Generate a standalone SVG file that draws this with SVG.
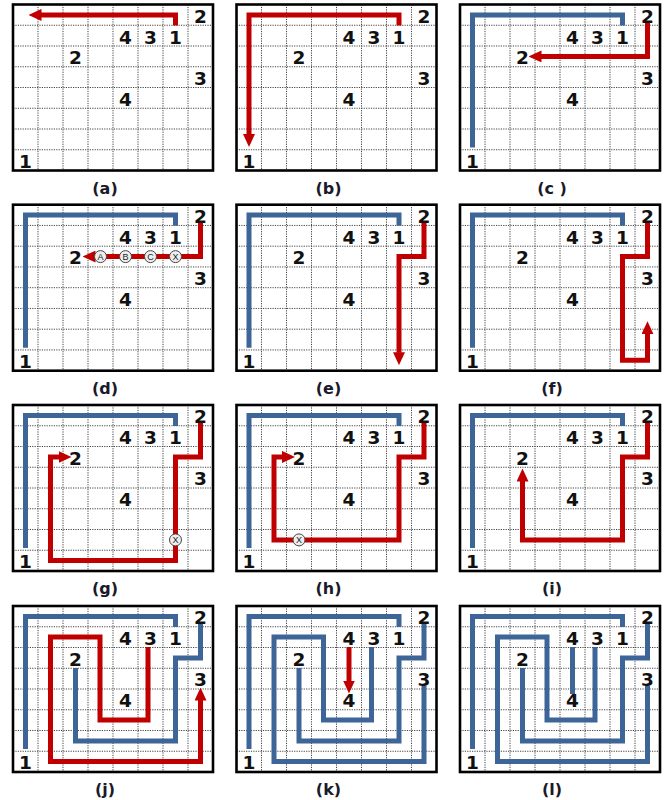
<svg xmlns="http://www.w3.org/2000/svg" xmlns:xlink="http://www.w3.org/1999/xlink" width="669" height="800" viewBox="0 0 669 800">
<style>
.bg{fill:#ffffff}
.gr{fill:none;stroke:#444;stroke-width:1;stroke-dasharray:1.2 1.2}
.bd{fill:none;stroke:#000;stroke-width:2.6}
.num{font-family:"DejaVu Sans",Verdana,sans-serif;font-weight:bold;font-size:18.5px;fill:#111;text-anchor:middle}
.lab{font-family:"DejaVu Sans",Verdana,sans-serif;font-weight:bold;font-size:16px;fill:#1a1a2a;text-anchor:middle}
.r{fill:none;stroke:#C00000;stroke-width:5;stroke-linejoin:miter;stroke-linecap:butt}
.b{fill:none;stroke:#3D6597;stroke-width:5;stroke-linejoin:miter;stroke-linecap:butt}
.ci{fill:#eeeeee;stroke:#444;stroke-width:1}
.cl{font-family:"Liberation Sans",Arial,sans-serif;font-size:9px;fill:#222;text-anchor:middle}
</style>
<defs>
<marker id="ah" markerUnits="userSpaceOnUse" viewBox="0 0 13 12" markerWidth="13" markerHeight="12" refX="0.5" refY="6" orient="auto">
<path d="M0,0 L13,6 L0,12 z" fill="#C00000"/>
</marker>
<g id="grid">
<rect class="bg" x="0" y="0" width="200" height="166"/>
<path class="gr" d="M25,0V166M50,0V166M75,0V166M100,0V166M125,0V166M150,0V166M175,0V166M0,20.75H200M0,41.5H200M0,62.25H200M0,83H200M0,103.75H200M0,124.5H200M0,145.25H200"/>
<rect class="bd" x="0" y="0" width="200" height="166"/>
</g>
<g id="nums">
<text class="num" x="187.5" y="18">2</text>
<text class="num" x="112.5" y="39">4</text>
<text class="num" x="137.5" y="39">3</text>
<text class="num" x="162.5" y="39">1</text>
<text class="num" x="62.5" y="59.5">2</text>
<text class="num" x="187.5" y="80">3</text>
<text class="num" x="112.5" y="101">4</text>
<text class="num" x="12.5" y="163">1</text>
</g>
<path id="p1" class="b" d="M162.5,21 V10.4 H12.5 V143"/>
<path id="p2" class="b" d="M187.5,18 V51.9 H162.5 V134.9 H62.5 V62"/>
</defs>

<g id="panel-a" transform="translate(13,4.5)">
<use xlink:href="#grid"/>
<g class="connectors"><path class="r" d="M162.5,21 V10.4 H28" marker-end="url(#ah)"/></g>
<use xlink:href="#nums"/>
<text class="lab" x="92" y="189">(a)</text>
</g>

<g id="panel-b" transform="translate(236.5,4.5)">
<use xlink:href="#grid"/>
<g class="connectors"><path class="r" d="M162.5,21 V10.4 H12.5 V130" marker-end="url(#ah)"/></g>
<use xlink:href="#nums"/>
<text class="lab" x="92" y="189">(b)</text>
</g>

<g id="panel-c" transform="translate(460,4.5)">
<use xlink:href="#grid"/>
<g class="connectors">
<use xlink:href="#p1"/>
<path class="r" d="M187.5,18 V51.9 H81" marker-end="url(#ah)"/>
</g>
<use xlink:href="#nums"/>
<text class="lab" x="92" y="189">(c )</text>
</g>

<g id="panel-d" transform="translate(13,204.7)">
<use xlink:href="#grid"/>
<g class="connectors">
<use xlink:href="#p1"/>
<path class="r" d="M187.5,18 V51.9 H82" marker-end="url(#ah)"/>
</g>
<g id="marks-d">
<circle class="ci" cx="87.5" cy="51.9" r="6"/><text class="cl" x="87.5" y="55.1">A</text>
<circle class="ci" cx="112.5" cy="51.9" r="6"/><text class="cl" x="112.5" y="55.1">B</text>
<circle class="ci" cx="137.5" cy="51.9" r="6"/><text class="cl" x="137.5" y="55.1">C</text>
<circle class="ci" cx="162.5" cy="51.9" r="6"/><text class="cl" x="162.5" y="55.1">X</text>
</g>
<use xlink:href="#nums"/>
<text class="lab" x="92" y="189">(d)</text>
</g>

<g id="panel-e" transform="translate(236.5,204.7)">
<use xlink:href="#grid"/>
<g class="connectors">
<use xlink:href="#p1"/>
<path class="r" d="M187.5,18 V51.9 H162.5 V148" marker-end="url(#ah)"/>
</g>
<use xlink:href="#nums"/>
<text class="lab" x="92" y="189">(e)</text>
</g>

<g id="panel-f" transform="translate(460,204.7)">
<use xlink:href="#grid"/>
<g class="connectors">
<use xlink:href="#p1"/>
<path class="r" d="M187.5,18 V51.9 H162.5 V155.6 H187.5 V129" marker-end="url(#ah)"/>
</g>
<use xlink:href="#nums"/>
<text class="lab" x="92" y="189">(f)</text>
</g>

<g id="panel-g" transform="translate(13,405)">
<use xlink:href="#grid"/>
<g class="connectors">
<use xlink:href="#p1"/>
<path class="r" d="M187.5,18 V51.9 H162.5 V155.6 H37.5 V51.9 H46" marker-end="url(#ah)"/>
</g>
<circle class="ci" cx="162.5" cy="134.9" r="6"/><text class="cl" x="162.5" y="138.1">X</text>
<use xlink:href="#nums"/>
<text class="lab" x="92" y="189">(g)</text>
</g>

<g id="panel-h" transform="translate(236.5,405)">
<use xlink:href="#grid"/>
<g class="connectors">
<use xlink:href="#p1"/>
<path class="r" d="M187.5,18 V51.9 H162.5 V134.9 H37.5 V51.9 H46" marker-end="url(#ah)"/>
</g>
<circle class="ci" cx="62.5" cy="134.9" r="6"/><text class="cl" x="62.5" y="138.1">X</text>
<use xlink:href="#nums"/>
<text class="lab" x="92" y="189">(h)</text>
</g>

<g id="panel-i" transform="translate(460,405)">
<use xlink:href="#grid"/>
<g class="connectors">
<use xlink:href="#p1"/>
<path class="r" d="M187.5,18 V51.9 H162.5 V134.9 H62.5 V76" marker-end="url(#ah)"/>
</g>
<use xlink:href="#nums"/>
<text class="lab" x="92" y="189">(i)</text>
</g>

<g id="panel-j" transform="translate(13,606)">
<use xlink:href="#grid"/>
<g class="connectors">
<use xlink:href="#p1"/>
<use xlink:href="#p2"/>
<path class="r" d="M135,41 V114.1 H87 V31.1 H37.5 V155.6 H187.5 V94" marker-end="url(#ah)"/>
</g>
<use xlink:href="#nums"/>
<text class="lab" x="92" y="189">(j)</text>
</g>

<g id="panel-k" transform="translate(236.5,606)">
<use xlink:href="#grid"/>
<g class="connectors">
<use xlink:href="#p1"/>
<use xlink:href="#p2"/>
<path class="b" d="M135,41 V114.1 H87 V31.1 H37.5 V155.6 H187.5 V80"/>
<path class="r" d="M112.5,41 V75" marker-end="url(#ah)"/>
</g>
<use xlink:href="#nums"/>
<text class="lab" x="92" y="189">(k)</text>
</g>

<g id="panel-l" transform="translate(460,606)">
<use xlink:href="#grid"/>
<g class="connectors">
<use xlink:href="#p1"/>
<use xlink:href="#p2"/>
<path class="b" d="M135,41 V114.1 H87 V31.1 H37.5 V155.6 H187.5 V80"/>
<path class="b" d="M112.5,41 V88"/>
</g>
<use xlink:href="#nums"/>
<text class="lab" x="92" y="189">(l)</text>
</g>
</svg>
